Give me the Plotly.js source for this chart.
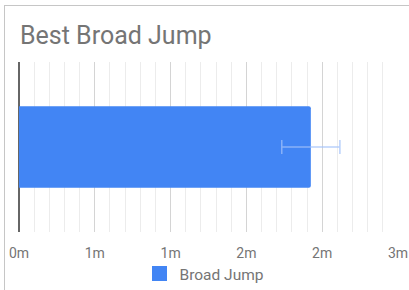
<!DOCTYPE html>
<html>
<head>
<meta charset="utf-8">
<script src="https://cdn.plot.ly/plotly-3.0.1.min.js"></script>
<style>
html,body{margin:0;padding:0;background:#fff;}
#wrap{position:relative;width:409px;height:290px;overflow:hidden;}
#chart{position:absolute;left:0;top:0;width:409px;height:290px;}
#frame{position:absolute;left:4px;top:5px;width:420px;height:300px;border-left:1px solid #c6c6c6;border-top:1px solid #c6c6c6;pointer-events:none;}
</style>
</head>
<body>
<div id="wrap"><div id="chart"></div><div id="frame"></div></div>
<script>
var categories = ['Broad Jump'];
var seriesName = 'Broad Jump';
var values = [2.31];
var errors = [0.23];
var chartTitle = 'Best Broad Jump';
var tickValues = [0, 0.6, 1.2, 1.8, 2.4, 3.0];
var tickLabels = ['0m', '1m', '1m', '2m', '2m', '3m'];

var barColor = '#4285F4';

var bar = {
  type: 'bar',
  orientation: 'h',
  name: seriesName,
  y: categories,
  x: values,
  width: 0.48,
  marker: {color: barColor, cornerradius: 2},
  error_x: {type: 'data', array: errors, symmetric: true, color: 'rgba(160,192,250,0.75)', thickness: 1.5, width: 7},
  showlegend: false,
  hoverinfo: 'none'
};

// legend entry for the same series (larger square swatch)
var legendEntry = {
  type: 'scatter', mode: 'markers', name: seriesName,
  x: [null], y: [null],
  marker: {symbol: 'square', size: 15, color: barColor},
  showlegend: true, hoverinfo: 'none'
};

var layout = {
  width: 409, height: 290,
  margin: {l: 19, r: 11, t: 62, b: 58, pad: 0},
  paper_bgcolor: '#fff', plot_bgcolor: '#fff',
  font: {family: 'Roboto, Arial, sans-serif', color: '#757575'},
  title: {text: chartTitle, font: {family: 'Roboto', size: 25, color: '#757575'},
          x: 20/409, xref: 'container', xanchor: 'left', y: 1 - 35/290, yref: 'container', yanchor: 'middle'},
  xaxis: {
    range: [0, 3], tickmode: 'array', tickvals: tickValues, ticktext: tickLabels,
    showgrid: true, gridcolor: '#d4d4d4', gridwidth: 1,
    minor: {dtick: 0.12, tick0: 0, showgrid: true, gridcolor: '#ececec', gridwidth: 1},
    zeroline: true, zerolinecolor: '#666', zerolinewidth: 1.5,
    showline: false, ticks: '', ticklabelstandoff: 11, tickfont: {size: 14, color: '#757575'},
    automargin: false, fixedrange: true
  },
  yaxis: {type: 'category', range: [-0.5, 0.5], showticklabels: false, showgrid: false, zeroline: false, showline: false, ticks: '', automargin: false, fixedrange: true},
  showlegend: true,
  legend: {orientation: 'h', x: 0.5, xref: 'container', xanchor: 'center', y: 1 - 274/290, yref: 'container', yanchor: 'middle', font: {size: 15.5, color: '#757575'}, bgcolor: 'rgba(0,0,0,0)', itemsizing: 'trace'}
};

Plotly.newPlot('chart', [bar, legendEntry], layout, {displayModeBar: false, staticPlot: true});
</script>
</body>
</html>
